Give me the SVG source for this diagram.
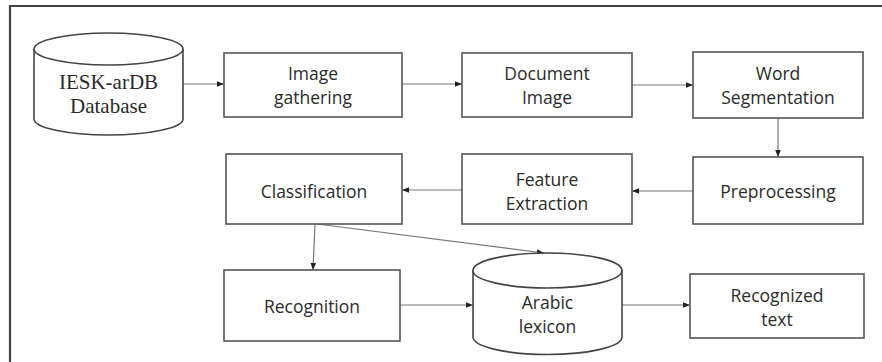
<svg xmlns="http://www.w3.org/2000/svg" width="882" height="362" viewBox="0 0 882 362">
<style>
.box{fill:#fff;stroke:#555;stroke-width:1.6}
.cyl{fill:#fff;stroke:#444;stroke-width:1.6}
.t{font-family:"Open Sans","Liberation Sans",sans-serif;font-size:17.5px;fill:#2b2b2b;text-anchor:middle;dominant-baseline:central}
.s{font-family:"Liberation Serif","Times New Roman",serif;font-size:21px;fill:#2b2b2b;text-anchor:middle;dominant-baseline:central}
.c{fill:none;stroke:#777;stroke-width:1.2;marker-end:url(#ah)}
</style>
<defs>
<marker id="ah" viewBox="0 0 10 10" refX="10" refY="5" markerWidth="7" markerHeight="7" markerUnits="userSpaceOnUse" orient="auto">
<path d="M0,1 L10,5 L0,9 Z" fill="#222"/>
</marker>
</defs>
<rect width="882" height="362" fill="#fff"/>
<path d="M10,362 L10,6 L882,6" fill="none" stroke="#444" stroke-width="2.2"/>
<g id="connectors">
<line class="c" x1="183" y1="84" x2="224" y2="84"/>
<line class="c" x1="402" y1="84" x2="462" y2="84"/>
<line class="c" x1="632" y1="85" x2="693" y2="85"/>
<line class="c" x1="778" y1="118" x2="778" y2="157"/>
<line class="c" x1="693" y1="191" x2="632" y2="191"/>
<line class="c" x1="462" y1="190" x2="402" y2="190"/>
<line class="c" x1="315" y1="224" x2="313" y2="270"/>
<line class="c" x1="317" y1="224" x2="544" y2="253"/>
<line class="c" x1="400" y1="305" x2="473" y2="305"/>
<line class="c" x1="622" y1="305" x2="690" y2="305"/>
</g>
<g id="iesk">
<path class="cyl" d="M34,49 L34,119 A74.5,16 0 0 0 183,119 L183,49"/>
<ellipse class="cyl" cx="108.5" cy="49" rx="74.5" ry="16"/>
<text class="s" x="108.5" y="82">IESK-arDB</text>
<text class="s" x="108.5" y="106">Database</text>
</g>
<g id="image-gathering">
<rect class="box" x="224" y="53" width="178" height="64"/>
<text class="t" x="313" y="73">Image</text>
<text class="t" x="313" y="97">gathering</text>
</g>
<g id="document-image">
<rect class="box" x="462" y="53" width="170" height="64"/>
<text class="t" x="547" y="73">Document</text>
<text class="t" x="547" y="97">Image</text>
</g>
<g id="word-segmentation">
<rect class="box" x="693" y="52" width="170" height="66"/>
<text class="t" x="778" y="73">Word</text>
<text class="t" x="778" y="97">Segmentation</text>
</g>
<g id="preprocessing">
<rect class="box" x="693" y="157" width="170" height="67"/>
<text class="t" x="778" y="191">Preprocessing</text>
</g>
<g id="feature-extraction">
<rect class="box" x="462" y="154" width="170" height="70"/>
<text class="t" x="547" y="179">Feature</text>
<text class="t" x="547" y="203">Extraction</text>
</g>
<g id="classification">
<rect class="box" x="226" y="154" width="176" height="70"/>
<text class="t" x="314" y="191">Classification</text>
</g>
<g id="recognition">
<rect class="box" x="224" y="270" width="176" height="71"/>
<text class="t" x="312" y="306">Recognition</text>
</g>
<g id="arabic-lexicon">
<path class="cyl" d="M473,270 L473,337 A74.5,17.5 0 0 0 622,337 L622,270"/>
<ellipse class="cyl" cx="547.5" cy="270.5" rx="74.5" ry="17.5"/>
<text class="t" x="547.5" y="302">Arabic</text>
<text class="t" x="547.5" y="326">lexicon</text>
</g>
<g id="recognized-text">
<rect class="box" x="690" y="274" width="174" height="64"/>
<text class="t" x="777" y="295">Recognized</text>
<text class="t" x="777" y="319">text</text>
</g>
</svg>
